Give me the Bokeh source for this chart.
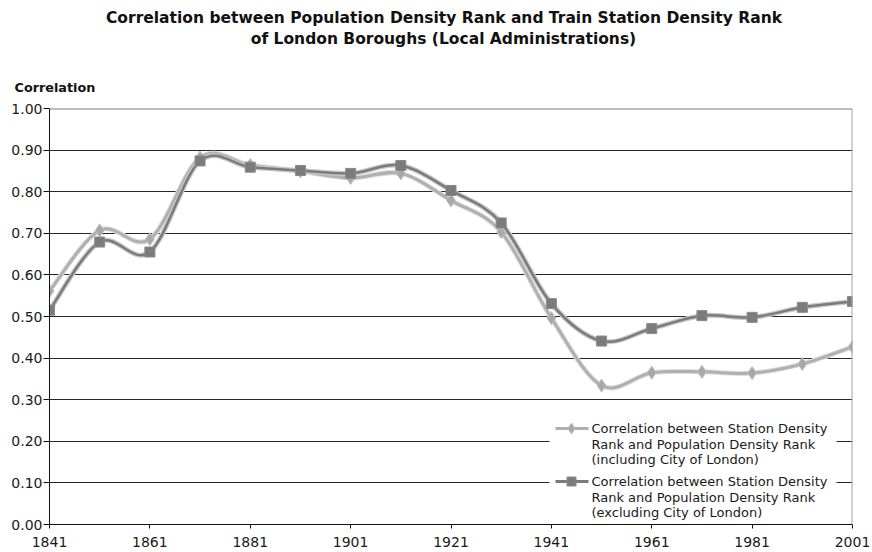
import numpy as np
from bokeh.plotting import figure
from bokeh.layouts import column
from bokeh.models import Range1d, FixedTicker, Span, Label, NumeralTickFormatter
from bokeh.core.properties import value
from bokeh.embed import file_html
from bokeh.resources import INLINE

# ---------------- data ----------------
YEARS = [1841, 1851, 1861, 1871, 1881, 1891, 1901, 1911, 1921, 1931,
         1941, 1951, 1961, 1971, 1981, 1991, 2001]
INCL_CITY = [0.561, 0.707, 0.686, 0.882, 0.864, 0.849, 0.833, 0.844, 0.779, 0.703,
             0.496, 0.334, 0.365, 0.367, 0.364, 0.386, 0.427]
EXCL_CITY = [0.515, 0.679, 0.655, 0.874, 0.859, 0.851, 0.844, 0.863, 0.803, 0.725,
             0.531, 0.441, 0.471, 0.502, 0.498, 0.522, 0.536]
X_TICKS = [1841, 1861, 1881, 1901, 1921, 1941, 1961, 1981, 2001]
Y_TICKS = [0.0, 0.1, 0.2, 0.3, 0.4, 0.5, 0.6, 0.7, 0.8, 0.9, 1.0]

TITLE_1 = "Correlation between Population Density Rank and Train Station Density Rank"
TITLE_2 = "of London Boroughs (Local Administrations)"
Y_LABEL = "Correlation"
LEG_INCL = ["Correlation between Station Density",
            "Rank and Population Density Rank",
            "(including City of London)"]
LEG_EXCL = ["Correlation between Station Density",
            "Rank and Population Density Rank",
            "(excluding City of London)"]

FONT = "DejaVu Sans"

# ---------------- layout ----------------
W = 872
H_TOP = 100          # header strip (titles + axis caption)
H_MAIN = 452         # main chart
ML, MR, MT, MB = 49, 20, 8, 28
X0, X1 = 1841, 2001
# page-pixel helpers
FL, FR = ML, W - MR
FT, FB = H_TOP + MT, H_TOP + H_MAIN - MB


def px_x(px):
    return X0 + (px - FL) * (X1 - X0) / (FR - FL)


def px_y(py):
    return (FB - py) / (FB - FT)


# ---------------- header figure (titles) ----------------
head = figure(width=W, height=H_TOP, output_backend="svg", toolbar_location=None,
              x_range=Range1d(0, W), y_range=Range1d(H_TOP, 0),
              x_axis_type=None, y_axis_type=None,
              min_border_left=0, min_border_right=0, min_border_top=0, min_border_bottom=0)
head.frame_align = False
head.outline_line_color = None
head.xgrid.visible = False
head.ygrid.visible = False
head.background_fill_color = "white"
head.border_fill_color = "white"

head.text(x=[443.5, 443], y=[17.5, 38.5], text=[TITLE_1, TITLE_2],
          text_font=value(FONT), text_font_size="15.5px", text_font_style="bold",
          text_color="#111111", text_align="center", text_baseline="middle")
head.text(x=[14], y=[86.5], text=[Y_LABEL],
          text_font=value(FONT), text_font_size="12.8px", text_font_style="bold",
          text_color="#111111", text_align="left", text_baseline="middle")

# ---------------- main figure ----------------
p = figure(width=W, height=H_MAIN, output_backend="svg", toolbar_location=None,
           x_range=Range1d(X0, X1), y_range=Range1d(0, 1),
           min_border_left=ML, min_border_right=MR,
           min_border_top=MT, min_border_bottom=MB)
p.frame_align = False
p.outline_line_color = None
p.background_fill_color = "white"
p.border_fill_color = "white"

p.xgrid.visible = False
p.ygrid.ticker = FixedTicker(ticks=Y_TICKS)
p.ygrid.grid_line_color = "#262626"
p.ygrid.grid_line_width = 1

p.yaxis.ticker = FixedTicker(ticks=Y_TICKS)
p.yaxis.formatter = NumeralTickFormatter(format="0.00")
p.yaxis.major_tick_out = 6
p.yaxis.major_tick_in = 0
p.yaxis.minor_tick_line_color = None
p.yaxis.major_label_standoff = 1

p.xaxis.ticker = FixedTicker(ticks=X_TICKS)
p.xaxis.major_tick_out = 4
p.xaxis.major_tick_in = 0
p.xaxis.minor_tick_line_color = None
p.xaxis.major_label_standoff = 8

for ax in (p.xaxis, p.yaxis):
    ax.axis_line_color = "#111111"
    ax.axis_line_width = 1
    ax.major_tick_line_color = "#111111"
    ax.major_label_text_font = FONT
    ax.major_label_text_font_size = "14px"
    ax.major_label_text_color = "#1a1a1a"

# top and right frame edges
p.add_layout(Span(location=1.0, dimension="width", line_color="#7a7a7a", line_width=2))
p.add_layout(Span(location=X1, dimension="height", line_color="#a6a6a6", line_width=2))


# ---------------- smooth curves (Excel-like bezier smoothing) ----------------
def bezier_parts(xs, ys):
    xs = np.asarray(xs, float)
    ys = np.asarray(ys, float)
    n = len(xs)
    x0, y0, x1, y1, cx0, cy0, cx1, cy1 = ([] for _ in range(8))
    for i in range(n - 1):
        im = max(i - 1, 0)
        ip = min(i + 2, n - 1)
        x0.append(xs[i]); y0.append(ys[i])
        x1.append(xs[i + 1]); y1.append(ys[i + 1])
        cx0.append(xs[i] + (xs[i + 1] - xs[im]) / 6)
        cy0.append(ys[i] + (ys[i + 1] - ys[im]) / 6)
        cx1.append(xs[i + 1] - (xs[ip] - xs[i]) / 6)
        cy1.append(ys[i + 1] - (ys[ip] - ys[i]) / 6)
    return dict(x0=x0, y0=y0, x1=x1, y1=y1, cx0=cx0, cy0=cy0, cx1=cx1, cy1=cy1)


b_in = bezier_parts(YEARS, INCL_CITY)
b_ex = bezier_parts(YEARS, EXCL_CITY)

LIGHT = "#b0b0b0"
LIGHT_HALO = "#dedede"
DARK = "#7b7b7b"
DARK_HALO = "#c9c9c9"

p.bezier(**b_in, line_color=LIGHT_HALO, line_width=5)
p.bezier(**b_in, line_color=LIGHT, line_width=3)
p.scatter(YEARS, INCL_CITY, marker="diamond", size=13, fill_color="#a8a8a8",
          line_color="#bdbdbd", line_width=1)

p.bezier(**b_ex, line_color=DARK_HALO, line_width=5)
p.bezier(**b_ex, line_color=DARK, line_width=2.5)
p.scatter(YEARS, EXCL_CITY, marker="square", size=10, fill_color=DARK,
          line_color="#8a8a8a", line_width=1)

# ---------------- legend (custom, multi-line) ----------------
p.quad(left=[px_x(549)], right=[px_x(836)], top=[px_y(413)], bottom=[px_y(521)],
       fill_color="white", line_color=None)

leg_y1 = px_y(428)
leg_y2 = px_y(481)
p.segment(x0=[px_x(555)], y0=[leg_y1], x1=[px_x(588)], y1=[leg_y1],
          line_color=LIGHT, line_width=3)
p.scatter([px_x(571)], [leg_y1], marker="diamond", size=11, fill_color="#a8a8a8",
          line_color="#bdbdbd")
p.segment(x0=[px_x(555)], y0=[leg_y2], x1=[px_x(588)], y1=[leg_y2],
          line_color=DARK, line_width=3)
p.scatter([px_x(571)], [leg_y2], marker="square", size=9, fill_color=DARK,
          line_color="#8a8a8a")

for lines, top_py in ((LEG_INCL, 428), (LEG_EXCL, 481)):
    for k, t in enumerate(lines):
        p.add_layout(Label(x=px_x(591), y=px_y(top_py + 15.5 * k), text=t,
                           text_font=FONT, text_font_size="13px",
                           text_color="#1a1a1a", text_align="left",
                           text_baseline="middle"))

layout = column(head, p, spacing=0)
open("out.html", "w").write(file_html(layout, INLINE))
